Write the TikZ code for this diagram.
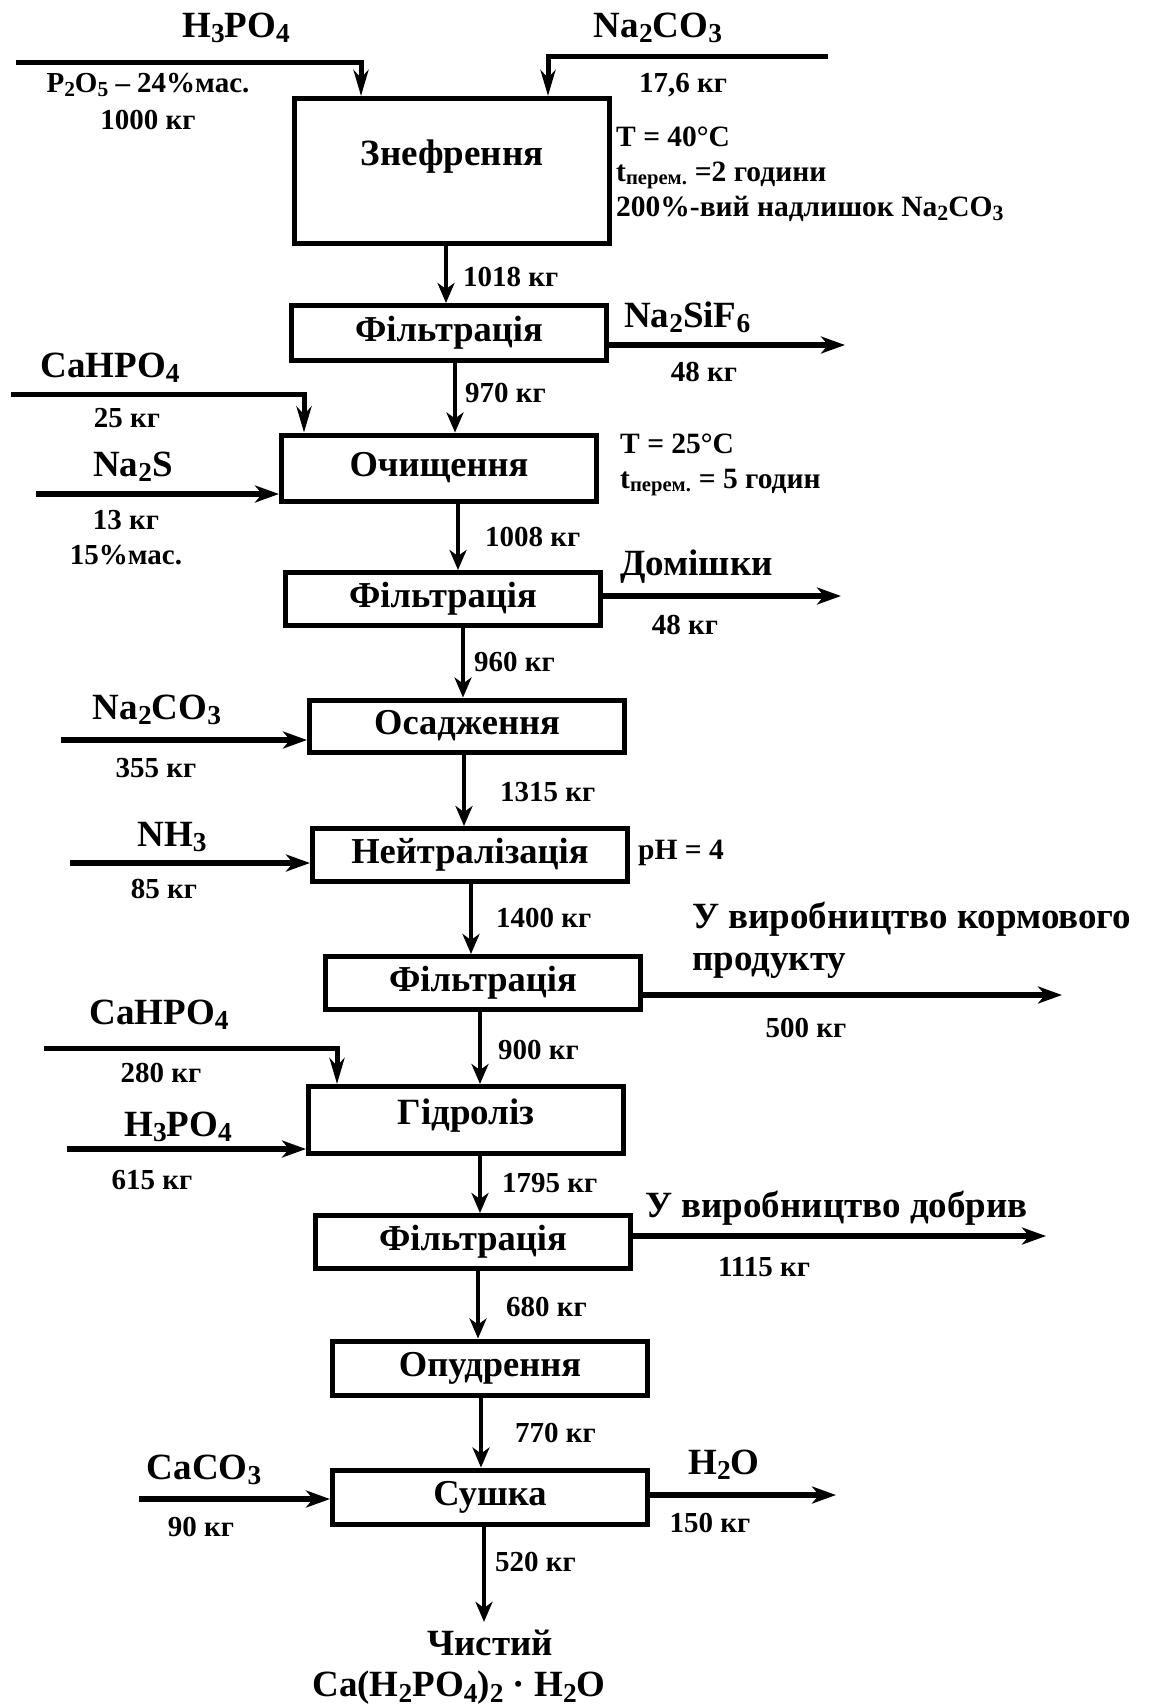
\documentclass[tikz,border=0pt]{standalone}
\usepackage{fontspec}
\setmainfont{Liberation Serif}
\usetikzlibrary{arrows.meta, positioning, calc}
\newcommand{\chsub}[1]{\raisebox{-0.3ex}{\scalebox{0.74}{#1}}}

\begin{document}
\begin{tikzpicture}[x=1pt, y=-1pt,
    stage/.style={draw, line width=5pt, minimum width=315pt, inner sep=0pt,
                  font=\bfseries\fontsize{36.5}{40}\selectfont},
    flow/.style={-{Stealth[length=20pt, width=17pt, inset=6pt]}, line width=3.5pt},
    feed/.style={-{Stealth[length=24pt, width=17pt, inset=7pt]}, line width=5.5pt},
    drop/.style={-{Stealth[length=26pt, width=15pt, inset=8pt]}, line width=5pt},
    chem/.style={inner sep=0pt, font=\bfseries\fontsize{37}{42}\selectfont},
    mass/.style={inner sep=0pt, font=\bfseries\fontsize{29}{32}\selectfont},
    note/.style={inner sep=0pt, anchor=west, align=left,
                 font=\bfseries\fontsize{29.5}{35}\selectfont}
]
\useasboundingbox (0,0) rectangle (1149,1705);

\node[stage, minimum height=145pt, label={[chem, yshift=14pt]center:Знефрення}] (zn) at (452,171) {};
\node[stage, minimum height=55pt] (f1) at (449,333) {Фільтрація};
\node[stage, minimum height=66pt] (och) at (439,468) {Очищення};
\node[stage, minimum height=53pt] (f2) at (443,599) {Фільтрація};
\node[stage, minimum height=52pt] (osad) at (467,726) {Осадження};
\node[stage, minimum height=53pt] (neut) at (470,855) {Нейтралізація};
\node[stage, minimum height=53pt] (f3) at (483,983) {Фільтрація};
\node[stage, minimum height=67pt, label={[chem, yshift=4pt]center:Гідроліз}] (hidr) at (466,1120) {};
\node[stage, minimum height=53pt] (f4) at (473,1242) {Фільтрація};
\node[stage, minimum height=54pt] (opud) at (490,1368) {Опудрення};
\node[stage, minimum height=54pt] (sush) at (490,1497) {Сушка};

\node[chem] (prod) at (490,1643) {Чистий};
\node[chem] (prodf) at (459,1688) {Ca(H\chsub{2}PO\chsub{4})\chsub{2} · H\chsub{2}O};

\draw[flow] ([xshift=-6pt]zn.south) -- ([xshift=-6pt]zn.south |- f1.north);
\draw[flow] ([xshift=6pt]f1.south) -- ([xshift=6pt]f1.south |- och.north);
\draw[flow] ([xshift=19pt]och.south) -- ([xshift=19pt]och.south |- f2.north);
\draw[flow] ([xshift=20pt]f2.south) -- ([xshift=20pt]f2.south |- osad.north);
\draw[flow] ([xshift=-3pt]osad.south) -- ([xshift=-3pt]osad.south |- neut.north);
\draw[flow] ([xshift=1pt]neut.south) -- ([xshift=1pt]neut.south |- f3.north);
\draw[flow] ([xshift=-3pt]f3.south) -- ([xshift=-3pt]f3.south |- hidr.north);
\draw[flow] ([xshift=14pt]hidr.south) -- ([xshift=14pt]hidr.south |- f4.north);
\draw[flow] ([xshift=5pt]f4.south) -- ([xshift=5pt]f4.south |- opud.north);
\draw[flow] ([xshift=-9pt]opud.south) -- ([xshift=-9pt]opud.south |- sush.north);
\draw[flow] ([xshift=-6pt]sush.south) -- ([xshift=-6pt,yshift=8pt]sush.south |- prod.north);

\node[mass, anchor=west] (m1) at (463,277) {1018 кг};
\node[mass, anchor=west] (m2) at (465,393) {970 кг};
\node[mass, anchor=west] (m3) at (485,537) {1008 кг};
\node[mass, anchor=west] (m4) at (474,662) {960 кг};
\node[mass, anchor=west] (m5) at (500,792) {1315 кг};
\node[mass, anchor=west] (m6) at (496,918) {1400 кг};
\node[mass, anchor=west] (m7) at (498,1050) {900 кг};
\node[mass, anchor=west] (m8) at (502,1183) {1795 кг};
\node[mass, anchor=west] (m9) at (506,1307) {680 кг};
\node[mass, anchor=west] (m10) at (515,1433) {770 кг};
\node[mass, anchor=west] (m11) at (495,1562) {520 кг};

\coordinate (acid) at (16,62);
\coordinate (soda) at (828,56);
\coordinate (fluor) at (845,345);
\coordinate (phos) at (11,394);
\coordinate (sulf) at (36,494);
\coordinate (imp) at (841,596);
\coordinate (soda2) at (61,740);
\coordinate (amm) at (70,863);
\coordinate (fodder) at (1062,995);
\coordinate (phos2) at (44,1048);
\coordinate (acid2) at (67,1149);
\coordinate (fert) at (1046,1236);
\coordinate (chalk) at (139,1499);
\coordinate (water) at (836,1495);

\draw[drop] (acid) -| ([xshift=-91pt]zn.north);
\draw[drop] (soda) -| ([xshift=96pt]zn.north);
\draw[feed] (f1.east |- fluor) -- (fluor);
\draw[drop] (phos) -| ([xshift=-135pt]och.north);
\draw[feed] (sulf) -- (sulf -| och.west);
\draw[feed] (f2.east |- imp) -- (imp);
\draw[feed] (soda2) -- (soda2 -| osad.west);
\draw[feed] (amm) -- (amm -| neut.west);
\draw[feed] (f3.east |- fodder) -- (fodder);
\draw[drop] (phos2) -| ([xshift=-129pt]hidr.north);
\draw[feed] (acid2) -- (acid2 -| hidr.west);
\draw[feed] (f4.east |- fert) -- (fert);
\draw[feed] (chalk) -- (chalk -| sush.west);
\draw[feed] (sush.east |- water) -- (water);

\node[chem] (acidN) at (236,28) {H\chsub{3}PO\chsub{4}};
\node[mass] (acidC) at (148,85) {P\chsub{2}O\chsub{5} – 24\%мас.};
\node[mass] (acidM) at (148,120) {1000 кг};
\node[chem] (sodaN) at (658,28) {Na\chsub{2}CO\chsub{3}};
\node[mass] (sodaM) at (683,85) {17,6 кг};
\node[note] (znT) at (616,174) {T = 40°C\\t\textsubscript{перем.} =2 години\\200\%-вий надлишок Na\chsub{2}CO\chsub{3}};

\node[chem, anchor=west] (fluorN) at (624,317) {Na\chsub{2}SiF\chsub{6}};
\node[mass] (fluorM) at (704,372) {48 кг};

\node[chem] (phosN) at (110,368) {CaHPO\chsub{4}};
\node[mass] (phosM) at (127,418) {25 кг};
\node[chem] (sulfN) at (133,467) {Na\chsub{2}S};
\node[mass] (sulfM) at (126,520) {13 кг};
\node[mass] (sulfC) at (126,555) {15\%мас.};
\node[note] (ochT) at (620,465) {T = 25°C\\t\textsubscript{перем.} = 5 годин};

\node[chem, anchor=west] (impN) at (620,567) {Домішки};
\node[mass] (impM) at (685,625) {48 кг};

\node[chem] (soda2N) at (157,710) {Na\chsub{2}CO\chsub{3}};
\node[mass] (soda2M) at (156,768) {355 кг};

\node[chem] (ammN) at (172,837) {NH\chsub{3}};
\node[mass] (ammM) at (164,889) {85 кг};
\node[note] (neutT) at (638,853) {pH = 4};

\node[chem, anchor=west, align=left] (fodderN) at (692,940) {У виробництво кормового\\продукту};
\node[mass] (fodderM) at (806,1028) {500 кг};

\node[chem] (phos2N) at (159,1015) {CaHPO\chsub{4}};
\node[mass] (phos2M) at (161,1073) {280 кг};
\node[chem] (acid2N) at (178,1127) {H\chsub{3}PO\chsub{4}};
\node[mass] (acid2M) at (152,1180) {615 кг};

\node[chem, anchor=west] (fertN) at (645,1208) {У виробництво добрив};
\node[mass] (fertM) at (764,1267) {1115 кг};

\node[chem] (chalkN) at (204,1470) {CaCO\chsub{3}};
\node[mass] (chalkM) at (201,1527) {90 кг};
\node[chem] (waterN) at (724,1465) {H\chsub{2}O};
\node[mass] (waterM) at (710,1523) {150 кг};
\end{tikzpicture}
\end{document}
